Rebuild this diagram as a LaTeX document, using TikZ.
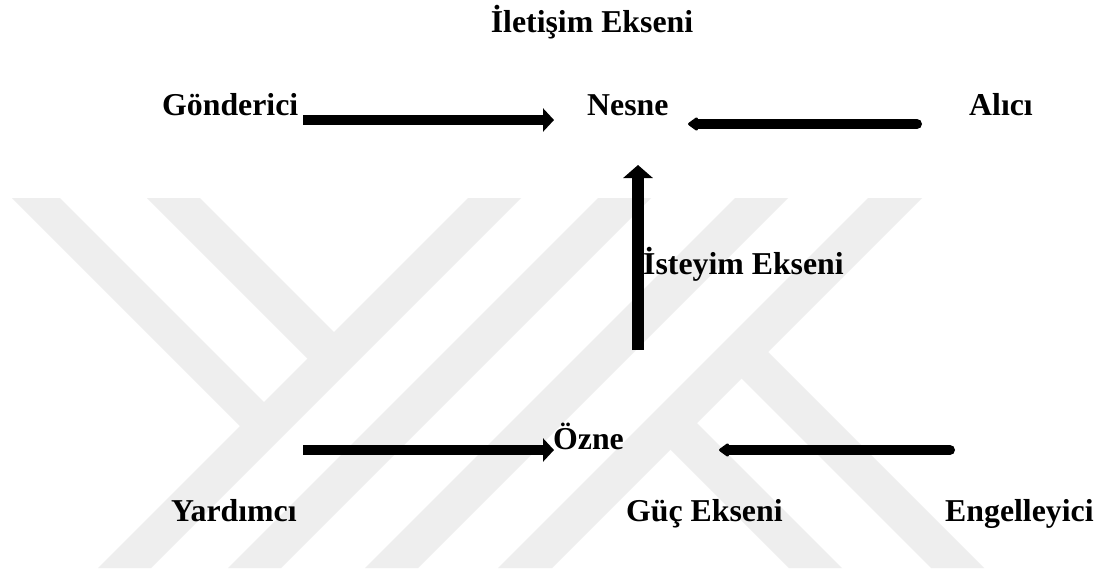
\documentclass[tikz,border=0pt]{standalone}
\usepackage{fontspec}
\setmainfont{Liberation Serif}
\usetikzlibrary{arrows.meta}
\definecolor{wmgray}{RGB}{238,238,238}
\begin{document}
\begin{tikzpicture}[x=1pt,y=-1pt,
  lbl/.style={inner sep=0pt,anchor=base west,font=\fontsize{31.8pt}{38pt}\selectfont\bfseries},
  fatarrow/.style={line width=10pt,-{Triangle[width=23pt,length=11pt]}},
  roundarrow/.style={line width=10pt,line cap=round,-{Triangle[width=15pt,length=11pt,round]}},
  vertarrow/.style={line width=12pt,-{Triangle[width=29pt,length=13pt]}},
  band/.style={fill=wmgray}]
\useasboundingbox (0,0) rectangle (1103,574);
\fill[white] (0,0) rectangle (1103,574);
% watermark
\fill[band] (468,198) -- (521,198) -- (151,568) -- (98,568) -- cycle;
\fill[band] (598,198) -- (651,198) -- (281,568) -- (228,568) -- cycle;
\fill[band] (735,198) -- (788,198) -- (418,568) -- (365,568) -- cycle;
\fill[band] (868,198) -- (922,198) -- (552,568) -- (498,568) -- cycle;
\fill[band] (12,198) -- (60,198) -- (277.25,415.25) -- (253.25,439.25) -- cycle;
\fill[band] (147,198) -- (200,198) -- (347.25,345.25) -- (320.75,371.75) -- cycle;
\fill[band] (728,365) -- (754.5,338.5) -- (984,568) -- (931,568) -- cycle;
\fill[band] (657,436) -- (683.5,409.5) -- (842,568) -- (789,568) -- cycle;
% labels
\node[lbl,anchor=base] (iletisim) at (592,32) {İletişim Ekseni};
\node[lbl] (gonderici) at (162,115) {Gönderici};
\node[lbl] (nesne) at (587,115) {Nesne};
\node[lbl] (alici) at (969,115) {Alıcı};
\node[lbl] (isteyim) at (643,274) {İsteyim Ekseni};
\node[lbl] (ozne) at (553,449) {Özne};
\node[lbl] (yardimci) at (171,521) {Yardımcı};
\node[lbl] (guc) at (626,521) {Güç Ekseni};
\node[lbl] (engelleyici) at (945,521) {Engelleyici};
% arrow end points
\coordinate (g0) at (303,120); \coordinate (g1) at (554,120);
\coordinate (a0) at (917,124); \coordinate (a1) at (688,124);
\coordinate (v0) at (638,350); \coordinate (v1) at (638,165);
\coordinate (y0) at (303,450); \coordinate (y1) at (554,450);
\coordinate (e0) at (950,450); \coordinate (e1) at (719,450);
% arrows
\draw[fatarrow] (g0) -- (g1);
\draw[roundarrow] (a0) -- (a1);
\draw[vertarrow] (v0) -- (v1);
\draw[fatarrow] (y0) -- (y1);
\draw[roundarrow] (e0) -- (e1);
\end{tikzpicture}
\end{document}
